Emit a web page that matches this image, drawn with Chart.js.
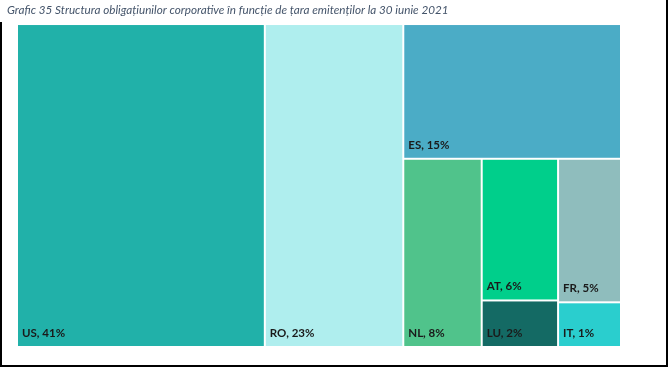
<!DOCTYPE html>
<html>
<head>
<meta charset="utf-8">
<script src="https://cdn.jsdelivr.net/npm/chart.js@4.4.1/dist/chart.umd.min.js"></script>
<style>
  html, body { margin: 0; padding: 0; background: #fff; }
  #wrap { position: relative; width: 668px; height: 367px; }
  .line { position: absolute; background: #000; }
</style>
</head>
<body>
<div id="wrap">
  <canvas id="treeChart" width="668" height="367"></canvas>
  <div class="line" style="left:0;top:22px;width:2px;height:345px"></div>
  <div class="line" style="right:0;top:0;width:2px;height:367px"></div>
  <div class="line" style="left:0;bottom:0;width:668px;height:2px"></div>
</div>
<script>
// Structura obligatiunilor corporative pe tara emitentului (% din total)
const countries = ['US', 'RO', 'ES', 'NL', 'AT', 'LU', 'FR', 'IT'];
const shares = [41, 23, 15, 7.6, 5.6, 1.8, 4.6, 1.4];
const colors = ['#21B1A9', '#AFEEEE', '#4BACC6', '#50C38B', '#00CF8B', '#146A64', '#8FBDBD', '#2ACECE'];

// gruparea dreptunghiurilor (h = alaturate, v = una sub alta)
const layoutTree = { dir: 'h', kids: [0, 1, { dir: 'v', kids: [2, { dir: 'h', kids: [3, { dir: 'v', kids: [4, 5] }, { dir: 'v', kids: [6, 7] }] }] }] };

function nodeSum(node) {
    if (typeof node === 'number') return shares[node];
    return node.kids.reduce((a, k) => a + nodeSum(k), 0);
}

// imparte zona [x0,x1]x[y0,y1] (unitati de date 0..100) proportional cu valorile
function sliceDice(node, x0, y0, x1, y1, out) {
    if (typeof node === 'number') {
        out.push({ i: node, x0, y0, x1, y1 });
        return;
    }
    const total = nodeSum(node);
    let pos = node.dir === 'h' ? x0 : y1;
    node.kids.forEach(k => {
        const f = nodeSum(k) / total;
        if (node.dir === 'h') {
            const w = (x1 - x0) * f;
            sliceDice(k, pos, y0, pos + w, y1, out);
            pos += w;
        } else {
            const h = (y1 - y0) * f;
            sliceDice(k, x0, pos - h, x1, pos, out);
            pos -= h;
        }
    });
}

const treemapPlugin = {
    id: 'treemapPlugin',
    afterDatasetsDraw(chart) {
        const ctx = chart.ctx;
        const xs = chart.scales.x;
        const ys = chart.scales.y;
        const rects = [];
        sliceDice(layoutTree, 0, 0, 100, 100, rects);
        const gap = 1;
        ctx.save();
        rects.forEach(r => {
            const left = xs.getPixelForValue(r.x0);
            const right = xs.getPixelForValue(r.x1);
            const top = ys.getPixelForValue(r.y1);
            const bottom = ys.getPixelForValue(r.y0);
            const lx = left + (r.x0 > 0 ? gap : 0);
            const rx = right - (r.x1 < 100 ? gap : 0);
            const ty = top + (r.y1 < 100 ? gap : 0);
            const by = bottom - (r.y0 > 0 ? gap : 0);
            ctx.fillStyle = colors[r.i];
            ctx.fillRect(lx, ty, rx - lx, by - ty);
            ctx.fillStyle = '#1A1A1A';
            ctx.font = 'bold 11.5px Lato';
            ctx.textBaseline = 'alphabetic';
            ctx.textAlign = 'left';
            ctx.fillText(countries[r.i] + ', ' + Math.round(shares[r.i]) + '%', lx + 4, by - 9);
        });
        ctx.restore();
    }
};

const chartCtx = document.getElementById('treeChart').getContext('2d');
new Chart(chartCtx, {
    type: 'scatter',
    data: { datasets: [{ data: [] }] },
    options: {
        responsive: false,
        animation: false,
        layout: { padding: { left: 7, right: 48, top: 0, bottom: 21 } },
        scales: {
            x: { type: 'linear', min: 0, max: 100, display: false },
            y: {
                type: 'linear', min: 0, max: 100, display: true,
                grid: { display: false }, ticks: { display: false }, border: { display: false },
                afterFit(scale) { scale.width = 11; }
            }
        },
        plugins: {
            legend: { display: false },
            tooltip: { enabled: false },
            title: {
                display: true,
                text: 'Grafic 35 Structura obligațiunilor corporative în funcție de țara emitenților la 30 iunie 2021',
                align: 'start',
                color: '#44546A',
                font: { family: 'Lato', size: 11.7, style: 'italic', weight: 'normal', lineHeight: 1.2 },
                padding: { top: 3.4, bottom: 7.6 }
            }
        }
    },
    plugins: [treemapPlugin]
});
</script>
</body>
</html>
